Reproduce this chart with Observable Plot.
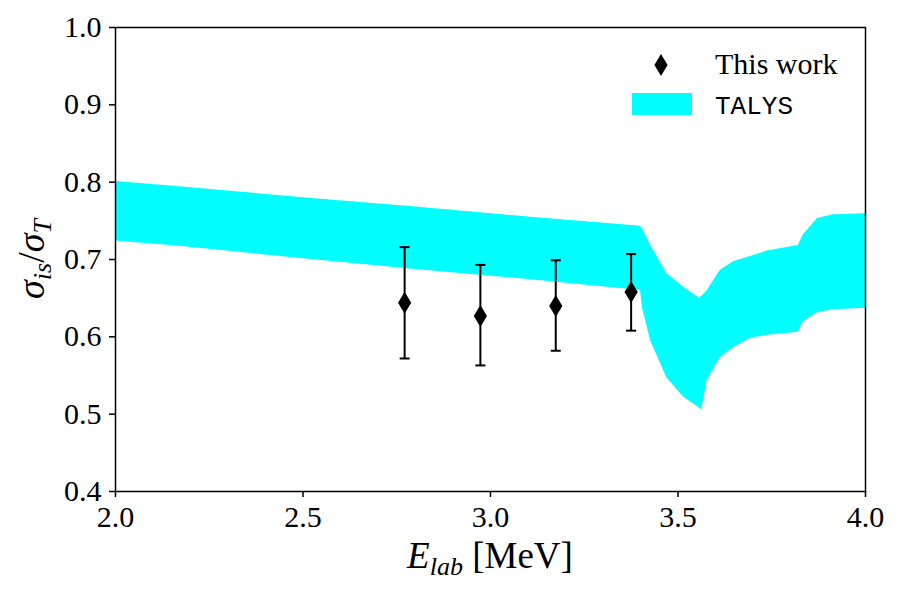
<!DOCTYPE html>
<html>
<head>
<meta charset="utf-8">
<script src="https://cdn.jsdelivr.net/npm/d3@7"></script>
<script src="https://cdn.jsdelivr.net/npm/@observablehq/plot@0.6"></script>
<style>
  body { margin: 0; background: #fff; }
  #chart { width: 900px; height: 600px; }
</style>
</head>
<body>
<div id="chart"></div>
<script>
// TALYS band: lab energy (MeV) with lower and upper edge of sigma_is / sigma_T
const energy     = [2.0, 2.17, 2.5, 2.8, 3.1, 3.40, 3.405, 3.427, 3.47, 3.515, 3.557, 3.563, 3.578, 3.613, 3.648, 3.693, 3.738, 3.821, 3.833, 3.872, 3.915, 4.0];
const talysUpper = [0.801, 0.794, 0.780, 0.768, 0.755, 0.743, 0.740, 0.718, 0.682, 0.664, 0.650, 0.652, 0.660, 0.686, 0.697, 0.704, 0.711, 0.718, 0.731, 0.753, 0.758, 0.759];
const talysLower = [0.724, 0.717, 0.701, 0.687, 0.674, 0.660, 0.638, 0.595, 0.547, 0.522, 0.508, 0.505, 0.544, 0.573, 0.586, 0.598, 0.602, 0.606, 0.619, 0.631, 0.635, 0.637];

// Measured ratios with their uncertainty limits
const workEnergy  = [2.771, 2.973, 3.174, 3.375];
const workRatio   = [0.644, 0.627, 0.640, 0.658];
const workErrLow  = [0.572, 0.563, 0.582, 0.608];
const workErrHigh = [0.716, 0.693, 0.699, 0.707];

const xTicks = [2.0, 2.5, 3.0, 3.5, 4.0];
const yTicks = [0.4, 0.5, 0.6, 0.7, 0.8, 0.9, 1.0];

const band = energy.map((e, i) => ({e, lo: talysLower[i], hi: talysUpper[i]}));
const points = workEnergy.map((e, i) => ({e, r: workRatio[i], lo: workErrLow[i], hi: workErrHigh[i]}));

// Narrow diamond marker (taller than wide)
const thinDiamond = {
  draw(ctx, size) {
    const r = Math.sqrt(size / Math.PI);
    const w = r * 0.6;
    ctx.moveTo(0, -r);
    ctx.lineTo(w, 0);
    ctx.lineTo(0, r);
    ctx.lineTo(-w, 0);
    ctx.closePath();
  }
};
// Horizontal cap for the error bars
const capLine = {
  draw(ctx, size) {
    const r = Math.sqrt(size / Math.PI);
    ctx.moveTo(-r, 0);
    ctx.lineTo(r, 0);
  }
};

const serif = "'Liberation Serif', 'DejaVu Serif', serif";
const mono = "'Liberation Mono', 'Courier New', monospace";

const chart = Plot.plot({
  width: 900,
  height: 600,
  marginLeft: 115,
  marginRight: 35,
  marginTop: 27,
  marginBottom: 109,
  style: {fontSize: "30px", color: "#000", background: "#fff"},
  x: {domain: [2.0, 4.0], label: null},
  y: {domain: [0.4, 1.0], label: null},
  marks: [
    Plot.areaY(band, {x: "e", y1: "lo", y2: "hi", fill: "#00ffff"}),
    Plot.ruleX(points, {x: "e", y1: "lo", y2: "hi", stroke: "#000", strokeWidth: 2}),
    Plot.dot(points, {x: "e", y: "lo", symbol: capLine, r: 5, stroke: "#000", strokeWidth: 2, fill: "none"}),
    Plot.dot(points, {x: "e", y: "hi", symbol: capLine, r: 5, stroke: "#000", strokeWidth: 2, fill: "none"}),
    Plot.dot(points, {x: "e", y: "r", symbol: thinDiamond, r: 11, fill: "#000", stroke: "none"}),
    Plot.axisX({ticks: xTicks, tickFormat: d3.format(".1f"), tickSize: 6, tickPadding: 8, stroke: "#000", strokeWidth: 1.5, fontSize: 30}),
    Plot.axisY({ticks: yTicks, tickFormat: d3.format(".1f"), tickSize: 6, tickPadding: 8, stroke: "#000", strokeWidth: 1.5, fontSize: 30}),
    Plot.frame({stroke: "#000", strokeWidth: 1.5})
  ]
});

document.getElementById("chart").appendChild(chart);

const svg = d3.select(chart);
// Serif face for every tick label
svg.selectAll("text")
  .style("font-family", serif)
  .style("font-variant", "normal");

// Axis titles with subscripts
const yTitle = svg.append("text")
  .attr("transform", "translate(44,259) rotate(-90)")
  .attr("text-anchor", "middle")
  .style("font-family", serif)
  .attr("font-size", 38)
  .attr("fill", "#000");
yTitle.append("tspan").attr("font-style", "italic").text("σ");
yTitle.append("tspan").attr("font-style", "italic").attr("font-size", 26).attr("dy", 7).text("is");
yTitle.append("tspan").attr("dy", -7).text("/");
yTitle.append("tspan").attr("font-style", "italic").text("σ");
yTitle.append("tspan").attr("font-style", "italic").attr("font-size", 26).attr("dy", 7).text("T");

const xTitle = svg.append("text")
  .attr("x", 490)
  .attr("y", 568)
  .attr("text-anchor", "middle")
  .style("font-family", serif)
  .attr("font-size", 37)
  .attr("fill", "#000");
xTitle.append("tspan").attr("font-style", "italic").text("E");
xTitle.append("tspan").attr("font-style", "italic").attr("font-size", 26).attr("dy", 7).text("lab");
xTitle.append("tspan").attr("dy", -7).text(" [MeV]");

// Legend
const legend = svg.append("g").attr("text-anchor", "start");
legend.append("path")
  .attr("transform", "translate(661,65)")
  .attr("d", d3.symbol(thinDiamond, Math.PI * 11 * 11)())
  .attr("fill", "#000");
legend.append("text")
  .attr("x", 715).attr("y", 74)
  .style("font-family", serif)
  .attr("font-size", 30).attr("fill", "#000")
  .text("This work");
legend.append("rect")
  .attr("x", 632).attr("y", 93).attr("width", 60).attr("height", 22)
  .attr("fill", "#00ffff");
legend.append("text")
  .attr("x", 715).attr("y", 114)
  .style("font-family", mono)
  .attr("font-size", 26).attr("fill", "#000")
  .text("TALYS");
</script>
</body>
</html>
